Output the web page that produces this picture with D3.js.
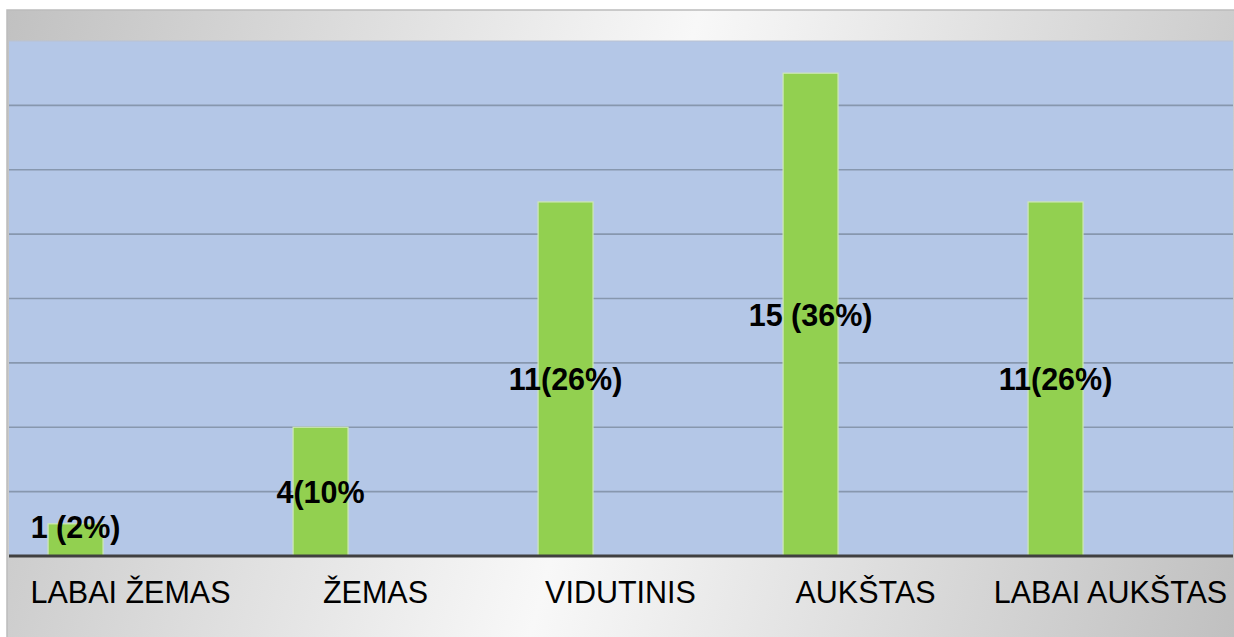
<!DOCTYPE html>
<html>
<head>
<meta charset="utf-8">
<script src="https://cdn.jsdelivr.net/npm/d3@7"></script>
<style>
  html, body { margin: 0; padding: 0; background: #ffffff; }
  svg { display: block; }
</style>
</head>
<body>
<svg id="chart" width="1234" height="637"></svg>
<script>
// Chart data
const categories = ["LABAI ŽEMAS", "ŽEMAS", "VIDUTINIS", "AUKŠTAS", "LABAI AUKŠTAS"];
const values = [1, 4, 11, 15, 11];
const valueLabels = ["1 (2%)", "4(10%", "11(26%)", "15 (36%)", "11(26%)"];
const gridTicks = [2, 4, 6, 8, 10, 12, 14];
// Series slots per category (only the first carries values)
const seriesSlots = ["s1", "s2", "s3"];

const svg = d3.select("#chart");

// Frame geometry
const frame = { x: 7, y: 10, w: 1240, h: 640 };
const plot = { left: 8, right: 1233, top: 41, bottom: 556 };

// Background gradient: grey edges, light centre, slightly tilted
const defs = svg.append("defs");
const cx = 615, cy = 323, ux = 0.965, uy = 0.262, half = 680;
const grad = defs.append("linearGradient")
  .attr("id", "bgGrad")
  .attr("gradientUnits", "userSpaceOnUse")
  .attr("x1", cx - ux * half).attr("y1", cy - uy * half)
  .attr("x2", cx + ux * half).attr("y2", cy + uy * half);
grad.append("stop").attr("offset", 0).attr("stop-color", "#c0c0c0");
grad.append("stop").attr("offset", 0.5).attr("stop-color", "#f8f8f8");
grad.append("stop").attr("offset", 1).attr("stop-color", "#c0c0c0");

svg.append("rect")
  .attr("x", frame.x).attr("y", frame.y)
  .attr("width", frame.w).attr("height", frame.h)
  .attr("fill", "url(#bgGrad)")
  .attr("stroke", "#bcbcbc").attr("stroke-width", 1.5);

// Scales
const x0 = d3.scaleBand().domain(categories).range([plot.left, plot.right]).padding(0);
const x1 = d3.scaleBand().domain(seriesSlots).range([0, x0.bandwidth()])
  .paddingInner(0).paddingOuter(0.73);
const y = d3.scaleLinear().domain([0, 16]).range([plot.bottom, plot.top]);

// Plot area
svg.append("rect")
  .attr("x", plot.left + 1).attr("y", y(16))
  .attr("width", plot.right - plot.left - 1).attr("height", y(0) - y(16))
  .attr("fill", "#b4c7e7");

// Top edge of plot
svg.append("line")
  .attr("x1", plot.left + 1).attr("x2", plot.right)
  .attr("y1", y(16)).attr("y2", y(16))
  .attr("stroke", "#b9c2d2").attr("stroke-width", 1);

// Gridlines
svg.append("g")
  .selectAll("line")
  .data(gridTicks)
  .join("line")
  .attr("x1", plot.left + 1).attr("x2", plot.right)
  .attr("y1", d => y(d)).attr("y2", d => y(d))
  .attr("stroke", "#8797ae").attr("stroke-width", 1.6);

// Bars
svg.append("g")
  .selectAll("rect")
  .data(categories)
  .join("rect")
  .attr("x", (d) => x0(d) + x1("s1"))
  .attr("y", (d, i) => y(values[i]))
  .attr("width", x1.bandwidth())
  .attr("height", (d, i) => y(0) - y(values[i]))
  .attr("fill", "#92d050")
  .attr("stroke", "#cfe8b6").attr("stroke-width", 1.2);

// Baseline
svg.append("line")
  .attr("x1", plot.left + 1).attr("x2", plot.right)
  .attr("y1", y(0)).attr("y2", y(0))
  .attr("stroke", "#404040").attr("stroke-width", 3);

// Value labels, centred in each bar
const fontFam = "'Liberation Sans', Arial, Helvetica, sans-serif";
svg.append("g")
  .selectAll("text")
  .data(categories)
  .join("text")
  .attr("x", d => x0(d) + x1("s1") + x1.bandwidth() / 2)
  .attr("y", (d, i) => Math.min((y(values[i]) + y(0)) / 2, y(0) - 29))
  .attr("dy", "0.36em")
  .attr("text-anchor", "middle")
  .attr("font-family", fontFam)
  .attr("font-weight", "bold")
  .attr("font-size", "30.5px")
  .attr("fill", "#000")
  .text((d, i) => valueLabels[i]);

// Category axis labels
const xAxis = d3.axisBottom(x0).tickSize(0).tickPadding(0);
const axisG = svg.append("g")
  .attr("transform", `translate(0,${y(0)})`)
  .call(xAxis);
axisG.select(".domain").remove();
axisG.selectAll("text")
  .attr("y", 47)
  .attr("dy", 0)
  .attr("font-family", fontFam)
  .attr("font-size", "30.5px")
  .attr("fill", "#000");
</script>
</body>
</html>
